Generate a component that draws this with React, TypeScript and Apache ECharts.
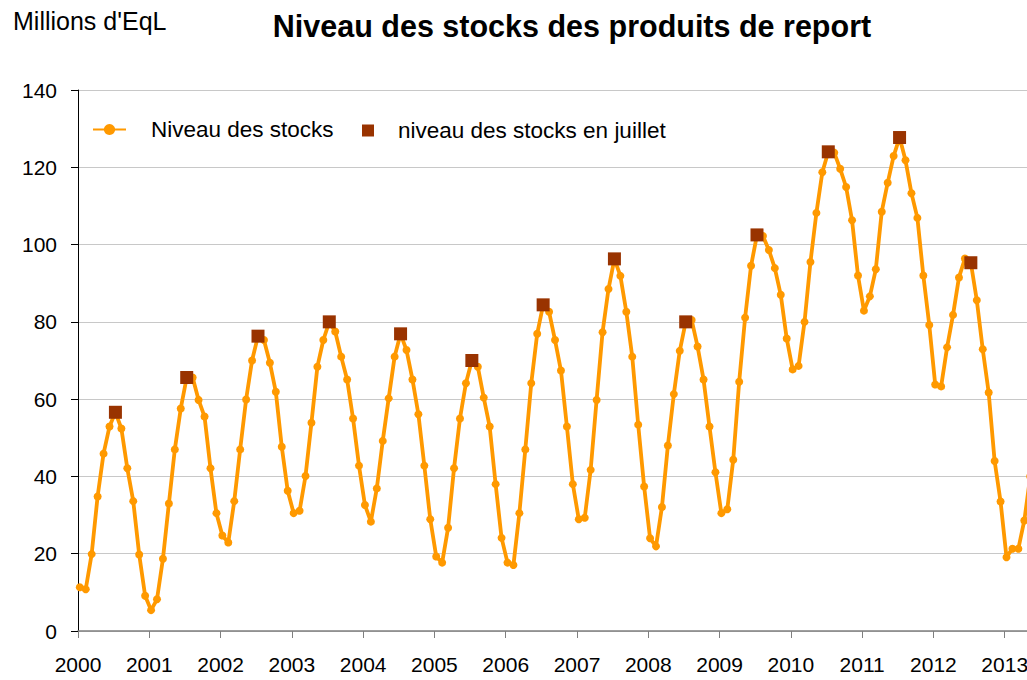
import React, { useEffect, useRef } from "react";
import * as echarts from "echarts";

const years: number[] = [2000, 2001, 2002, 2003, 2004, 2005, 2006, 2007, 2008, 2009, 2010, 2011, 2012, 2013];

// Monthly stock levels (millions d'EqL), Jan..Dec per year
const stocks2000 = [11.3, 10.8, 19.9, 34.8, 45.9, 52.9, 56.6, 52.4, 42.1, 33.6, 19.8, 9.1];
const stocks2001 = [5.4, 8.2, 18.7, 33.0, 47.0, 57.6, 65.6, 65.6, 59.8, 55.5, 42.1, 30.5];
const stocks2002 = [24.7, 22.9, 33.6, 47.0, 59.9, 70.0, 76.3, 75.3, 69.4, 61.9, 47.7, 36.3];
const stocks2003 = [30.5, 31.1, 40.1, 53.9, 68.4, 75.3, 80.0, 77.5, 71.0, 65.1, 55.0, 42.8];
const stocks2004 = [32.6, 28.3, 36.9, 49.2, 60.2, 71.0, 76.9, 72.7, 65.1, 56.1, 42.8, 28.9];
const stocks2005 = [19.3, 17.7, 26.7, 42.1, 55.0, 64.1, 70.0, 68.4, 60.4, 52.9, 38.0, 24.1];
const stocks2006 = [17.7, 17.1, 30.5, 47.0, 64.1, 76.9, 84.4, 82.6, 75.3, 67.4, 52.9, 38.0];
const stocks2007 = [28.9, 29.3, 41.7, 59.8, 77.3, 88.5, 96.3, 91.9, 82.6, 71.0, 53.4, 37.4];
const stocks2008 = [24.0, 21.9, 32.1, 48.0, 61.3, 72.5, 80.0, 80.5, 73.6, 65.1, 52.9, 41.1];
const stocks2009 = [30.5, 31.5, 44.3, 64.5, 81.1, 94.5, 102.5, 102.2, 98.6, 93.9, 87.0, 75.7];
const stocks2010 = [67.7, 68.6, 80.0, 95.5, 108.2, 118.7, 124.0, 123.8, 119.6, 114.9, 106.3, 92.0];
const stocks2011 = [82.9, 86.6, 93.6, 108.5, 116.0, 122.9, 127.7, 121.8, 113.3, 106.9, 92.0, 79.2];
const stocks2012 = [63.8, 63.3, 73.4, 81.8, 91.5, 96.4, 95.3, 85.6, 72.9, 61.7, 44.0, 33.5];
const stocks2013 = [19.1, 21.3, 21.3, 28.6, 40.0];

const stocksByYear: number[][] = [
  stocks2000, stocks2001, stocks2002, stocks2003, stocks2004, stocks2005, stocks2006,
  stocks2007, stocks2008, stocks2009, stocks2010, stocks2011, stocks2012, stocks2013,
];

const yTicks = [0, 20, 40, 60, 80, 100, 120, 140];
const JULY = 6;

const FONT = "'Liberation Sans', Arial, sans-serif";

export default function App() {
  const ref = useRef<HTMLDivElement>(null);

  useEffect(() => {
    if (!ref.current) return;
    const chart = echarts.init(ref.current, null, { renderer: "svg" });

    const lineData: number[][] = [];
    const julyData: number[][] = [];
    stocksByYear.forEach((vals, yi) => {
      vals.forEach((v, m) => {
        const x = years[yi] + (m + 0.3) / 12;
        lineData.push([x, v]);
        if (m === JULY) julyData.push([x, v]);
      });
    });

    chart.setOption({
      animation: false,
      backgroundColor: "#ffffff",
      title: {
        text: "Niveau des stocks des produits de report",
        left: 572,
        top: 10,
        padding: 0,
        textAlign: "center",
        textStyle: { fontFamily: FONT, fontSize: 30.5, fontWeight: "bold", color: "#000" },
      },
      graphic: [
        {
          type: "text",
          left: 13,
          top: 8,
          style: { text: "Millions d'EqL", font: `25px ${FONT}`, fill: "#000" },
        },
      ],
      legend: [
        {
          data: ["Niveau des stocks"],
          left: 92,
          top: 118,
          padding: 0,
          itemWidth: 33,
          itemHeight: 14,
          textStyle: { fontFamily: FONT, fontSize: 22.5, color: "#000", padding: [0, 0, 0, 20] },
        },
        {
          data: [{ name: "niveau des stocks en juillet", icon: "rect" }],
          left: 362,
          top: 119,
          padding: 0,
          itemWidth: 12,
          itemHeight: 12,
          textStyle: { fontFamily: FONT, fontSize: 22.5, color: "#000", padding: [0, 0, 0, 19] },
        },
      ],
      grid: { left: 78, right: 24, top: 90, bottom: 49 },
      xAxis: {
        type: "value",
        min: years[0],
        max: years[years.length - 1] + 1,
        interval: 1,
        axisLine: { lineStyle: { color: "#7f7f7f", width: 1.5 } },
        axisTick: { show: true, length: 7, lineStyle: { color: "#7f7f7f" } },
        splitLine: { show: false },
        axisLabel: {
          fontFamily: FONT,
          fontSize: 21,
          color: "#000",
          margin: 23,
          formatter: (v: number) => (years.includes(Math.round(v)) ? String(Math.round(v)) : ""),
        },
      },
      yAxis: {
        type: "value",
        min: yTicks[0],
        max: yTicks[yTicks.length - 1],
        interval: 20,
        axisLine: { show: true, lineStyle: { color: "#000", width: 1 } },
        axisTick: { show: true, length: 7, lineStyle: { color: "#000" } },
        splitLine: { show: true, lineStyle: { color: "#c8c8c8", width: 1 } },
        axisLabel: { fontFamily: FONT, fontSize: 21, color: "#000", margin: 21 },
      },
      series: [
        {
          name: "Niveau des stocks",
          type: "line",
          data: lineData,
          color: "#FF9900",
          lineStyle: { color: "#FF9900", width: 3.8 },
          itemStyle: { color: "#FF9900", opacity: 1 },
          symbol: "circle",
          symbolSize: 8,
          showSymbol: true,
          showAllSymbol: true,
          z: 2,
        },
        {
          name: "niveau des stocks en juillet",
          type: "scatter",
          data: julyData,
          symbol: "rect",
          symbolSize: 13,
          color: "#993300",
          itemStyle: { color: "#993300", opacity: 1 },
          z: 3,
        },
      ],
    });

    return () => chart.dispose();
  }, []);

  return (
    <div style={{ position: "fixed", left: 0, top: 0, width: 1027, height: 680, overflow: "hidden", background: "#fff" }}>
      <div ref={ref} style={{ width: 1100, height: 680 }} />
    </div>
  );
}
